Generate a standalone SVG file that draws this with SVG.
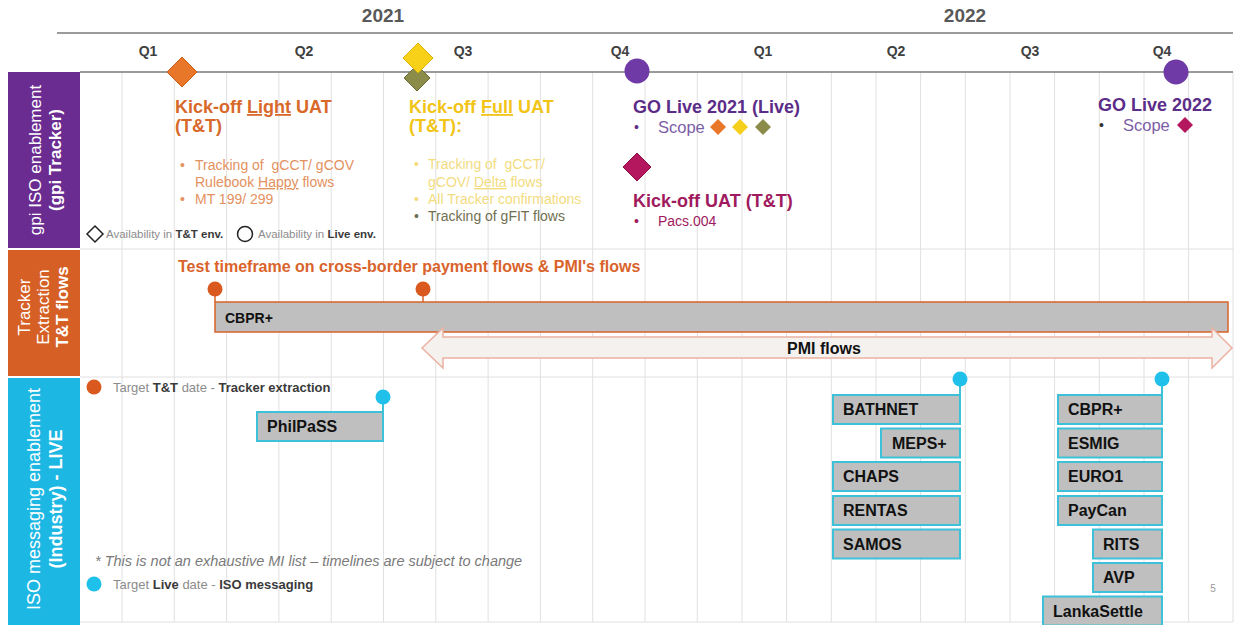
<svg xmlns="http://www.w3.org/2000/svg" width="1245" height="625" viewBox="0 0 1245 625">
<style>
text{font-family:"Liberation Sans",Arial,sans-serif}
.yr{font-size:19px;font-weight:bold;fill:#595959;text-anchor:middle}
.q{font-size:14px;font-weight:bold;fill:#404040;text-anchor:middle}
.axis{stroke:#7a7a7a;stroke-width:1.5}
.grid{stroke:#e0e0e0;stroke-width:1}
.lanelbl{fill:#ffffff;text-anchor:middle}
.ttl{font-size:18px;font-weight:bold}
.bul{font-size:14px}
.u{text-decoration:underline}
.box{fill:#bfbfbf;stroke:#3cc1d9;stroke-width:2}
.boxt{font-size:16px;font-weight:bold;fill:#111}
.pinT{fill:#1fc0ea}
.pinO{fill:#d9591f}
.stemT{stroke:#3cc1d9;stroke-width:2}
.stemO{stroke:#d9632a;stroke-width:1.5}
.leg{font-size:13px;fill:#8c8c8c}
.legb{font-weight:bold;fill:#3a3a3a}
</style>

<g id="grid">
<line class="grid" x1="122" y1="72" x2="122" y2="622"/>
<line class="grid" x1="174.3" y1="72" x2="174.3" y2="622"/>
<line class="grid" x1="226.6" y1="72" x2="226.6" y2="622"/>
<line class="grid" x1="278.9" y1="72" x2="278.9" y2="622"/>
<line class="grid" x1="331.2" y1="72" x2="331.2" y2="622"/>
<line class="grid" x1="383.5" y1="72" x2="383.5" y2="622"/>
<line class="grid" x1="435.8" y1="72" x2="435.8" y2="622"/>
<line class="grid" x1="488.1" y1="72" x2="488.1" y2="622"/>
<line class="grid" x1="540.4" y1="72" x2="540.4" y2="622"/>
<line class="grid" x1="592.7" y1="72" x2="592.7" y2="622"/>
<line class="grid" x1="645" y1="72" x2="645" y2="622"/>
<line class="grid" x1="697.3" y1="72" x2="697.3" y2="622"/>
<line class="grid" x1="742" y1="72" x2="742" y2="622"/>
<line class="grid" x1="786.6" y1="72" x2="786.6" y2="622"/>
<line class="grid" x1="831.3" y1="72" x2="831.3" y2="622"/>
<line class="grid" x1="876" y1="72" x2="876" y2="622"/>
<line class="grid" x1="920.6" y1="72" x2="920.6" y2="622"/>
<line class="grid" x1="965.3" y1="72" x2="965.3" y2="622"/>
<line class="grid" x1="1010" y1="72" x2="1010" y2="622"/>
<line class="grid" x1="1054.6" y1="72" x2="1054.6" y2="622"/>
<line class="grid" x1="1099.3" y1="72" x2="1099.3" y2="622"/>
<line class="grid" x1="1144" y1="72" x2="1144" y2="622"/>
<line class="grid" x1="1188.6" y1="72" x2="1188.6" y2="622"/>
<line class="grid" x1="1233" y1="72" x2="1233" y2="622"/>
<line class="grid" x1="80" y1="249" x2="1233" y2="249"/>
<line class="grid" x1="80" y1="377" x2="1233" y2="377"/>
<line class="grid" x1="80" y1="622" x2="1233" y2="622"/>
</g>

<g id="axis">
<line class="axis" x1="57" y1="33" x2="1233" y2="33"/>
<line class="axis" x1="80" y1="72" x2="1233" y2="72"/>
<text class="yr" x="383" y="22">2021</text>
<text class="yr" x="965" y="22">2022</text>
<text class="q" x="148" y="56">Q1</text>
<text class="q" x="304" y="56">Q2</text>
<text class="q" x="463" y="56">Q3</text>
<text class="q" x="620" y="56">Q4</text>
<text class="q" x="763" y="56">Q1</text>
<text class="q" x="896" y="56">Q2</text>
<text class="q" x="1030" y="56">Q3</text>
<text class="q" x="1162" y="56">Q4</text>
</g>

<g id="lane-gpi">
<rect x="8" y="72" width="72" height="176" fill="#6b2c91"/>
<text class="lanelbl" font-size="17" transform="translate(41,160) rotate(-90)">gpi ISO enablement</text>
<text class="lanelbl" font-size="17" font-weight="bold" transform="translate(61,160) rotate(-90)">(gpi Tracker)</text>
</g>
<g id="lane-tracker">
<rect x="8" y="250" width="72" height="126" fill="#d65f25"/>
<text class="lanelbl" font-size="17" transform="translate(30,307) rotate(-90)">Tracker</text>
<text class="lanelbl" font-size="17" transform="translate(49,307) rotate(-90)">Extraction</text>
<text class="lanelbl" font-size="17" font-weight="bold" transform="translate(68,307) rotate(-90)">T&amp;T flows</text>
</g>
<g id="lane-iso">
<rect x="8" y="378" width="72" height="247" fill="#1db7e4"/>
<text class="lanelbl" font-size="18" transform="translate(40,499) rotate(-90)">ISO messaging enablement</text>
<text class="lanelbl" font-size="18" font-weight="bold" transform="translate(62,499) rotate(-90)">(Industry) - LIVE</text>
</g>

<g id="ms-light-uat">
<polygon points="182,57 197,72 182,87 167,72" fill="#e8772a" stroke="#c85d18" stroke-width="1"/>
<text class="ttl" fill="#d8692b" x="175" y="113">Kick-off <tspan class="u">Light</tspan> UAT</text>
<text class="ttl" fill="#d8692b" x="175" y="132">(T&amp;T)</text>
<text class="bul" fill="#e39160" x="180" y="170">•</text>
<text class="bul" fill="#e39160" x="195" y="170" xml:space="preserve">Tracking of  gCCT/ gCOV</text>
<text class="bul" fill="#e39160" x="195" y="187">Rulebook <tspan class="u">Happy</tspan> flows</text>
<text class="bul" fill="#e39160" x="180" y="204">•</text>
<text class="bul" fill="#e39160" x="195" y="204">MT 199/ 299</text>
</g>

<g id="ms-full-uat">
<polygon points="417,65 430,78 417,91 404,78" fill="#8c8c4a" stroke="#6b6b35" stroke-width="1"/>
<polygon points="418,43 433,58 418,73 403,58" fill="#f7d117" stroke="#e0b000" stroke-width="1"/>
<text class="ttl" fill="#f2c418" x="409" y="113">Kick-off <tspan class="u">Full</tspan> UAT</text>
<text class="ttl" fill="#f2c418" x="409" y="132">(T&amp;T):</text>
<text class="bul" fill="#f3dc80" x="414" y="169">•</text>
<text class="bul" fill="#f3dc80" x="428" y="169" xml:space="preserve">Tracking of  gCCT/</text>
<text class="bul" fill="#f3dc80" x="428" y="187">gCOV/ <tspan class="u">Delta</tspan> flows</text>
<text class="bul" fill="#f3dc80" x="414" y="204">•</text>
<text class="bul" fill="#f3dc80" x="428" y="204">All Tracker confirmations</text>
<text class="bul" fill="#6f6f50" x="414" y="221">•</text>
<text class="bul" fill="#6f6f50" x="428" y="221">Tracking of gFIT flows</text>
</g>

<g id="ms-golive-2021">
<circle cx="637" cy="71" r="12.5" fill="#6f3aa6"/>
<text class="ttl" fill="#5b2d88" x="633" y="113">GO Live 2021 (Live)</text>
<text font-size="14" fill="#5b2d88" x="634" y="132">•</text>
<text font-size="16.5" fill="#7b5ea7" x="658" y="133">Scope</text>
<polygon points="718,119 726,127 718,135 710,127" fill="#e8772a"/>
<polygon points="740,119 748,127 740,135 732,127" fill="#f5cf1a"/>
<polygon points="763,119 771,127 763,135 755,127" fill="#8c8c4a"/>
</g>

<g id="ms-kickoff-uat">
<polygon points="637,153 651,167 637,181 623,167" fill="#b5175e" stroke="#8a0f45" stroke-width="1"/>
<text class="ttl" fill="#a01a5e" x="633" y="207">Kick-off UAT (T&amp;T)</text>
<text font-size="14" fill="#a01a5e" x="634" y="226">•</text>
<text font-size="14" fill="#a01a5e" x="658" y="226">Pacs.004</text>
</g>

<g id="ms-golive-2022">
<circle cx="1176" cy="72" r="12.5" fill="#6f3aa6"/>
<text class="ttl" fill="#5b2d88" x="1098" y="111">GO Live 2022</text>
<text font-size="14" fill="#333" x="1099" y="130">•</text>
<text font-size="16.5" fill="#7b5ea7" x="1123" y="131">Scope</text>
<polygon points="1185,117 1193,125 1185,133 1177,125" fill="#b5175e"/>
</g>

<g id="legend-top">
<polygon points="95,226 103,234 95,242 87,234" fill="#fff" stroke="#222" stroke-width="1.5"/>
<text font-size="11.5" fill="#8c8c8c" x="106" y="238">Availability in <tspan class="legb">T&amp;T env.</tspan></text>
<circle cx="245" cy="234" r="7.5" fill="#fff" stroke="#222" stroke-width="1.5"/>
<text font-size="11.5" fill="#8c8c8c" x="258" y="238">Availability in <tspan class="legb">Live env.</tspan></text>
</g>

<g id="tracker-title">
<text font-size="16" font-weight="bold" fill="#d9632a" x="178" y="272">Test timeframe on cross-border payment flows &amp; PMI's flows</text>
</g>

<g id="bar-cbpr">
<rect x="215" y="302" width="1013" height="30" fill="#bfbfbf" stroke="#d9632a" stroke-width="1.5"/>
<text font-size="14" font-weight="bold" fill="#111" x="225" y="323">CBPR+</text>
</g>

<g id="arrow-pmi">
<path d="M422,348 L443,328 L443,337 L1212,337 L1212,328 L1232,348 L1212,368 L1212,358 L443,358 L443,368 Z" fill="#f5f1ef" stroke="#eab2a2" stroke-width="1.5"/>
<text font-size="16" font-weight="bold" fill="#111" x="824" y="354" text-anchor="middle">PMI flows</text>
</g>

<g id="connectors">
<line class="stemO" x1="215" y1="289" x2="215" y2="302"/>
<line class="stemO" x1="423" y1="289" x2="423" y2="302"/>
<line class="stemT" x1="383" y1="397" x2="383" y2="412"/>
<line class="stemT" x1="960" y1="379" x2="960" y2="395"/>
<line class="stemT" x1="1162" y1="379" x2="1162" y2="395"/>
</g>

<g id="pins">
<circle class="pinO" cx="215" cy="289" r="7.5"/>
<circle class="pinO" cx="423" cy="289" r="7.5"/>
<circle class="pinT" cx="383" cy="397" r="7.5"/>
<circle class="pinT" cx="960" cy="379" r="7.5"/>
<circle class="pinT" cx="1162" cy="379" r="7.5"/>
</g>

<g id="legend-bottom">
<circle cx="94" cy="387" r="7.5" fill="#d9591f"/>
<text class="leg" x="113" y="392">Target <tspan class="legb">T&amp;T</tspan> date - <tspan class="legb">Tracker extraction</tspan></text>
<text font-size="14.5" font-style="italic" fill="#7a7a7a" x="95" y="566">* This is not an exhaustive MI list – timelines are subject to change</text>
<circle cx="94" cy="584" r="7.5" fill="#1fc0ea"/>
<text class="leg" x="113" y="589">Target <tspan class="legb">Live</tspan> date - <tspan class="legb">ISO messaging</tspan></text>
</g>

<g id="box-philpass"><rect class="box" x="257" y="412" width="126" height="29"/><text class="boxt" x="267" y="432">PhilPaSS</text></g>
<g id="box-bathnet"><rect class="box" x="833" y="395" width="127" height="29"/><text class="boxt" x="843" y="415">BATHNET</text></g>
<g id="box-meps"><rect class="box" x="881" y="428.5" width="79" height="29"/><text class="boxt" x="892" y="448.5">MEPS+</text></g>
<g id="box-chaps"><rect class="box" x="833" y="462" width="127" height="29"/><text class="boxt" x="843" y="482">CHAPS</text></g>
<g id="box-rentas"><rect class="box" x="833" y="496" width="127" height="29"/><text class="boxt" x="843" y="516">RENTAS</text></g>
<g id="box-samos"><rect class="box" x="833" y="529.5" width="127" height="29"/><text class="boxt" x="843" y="549.5">SAMOS</text></g>
<g id="box-cbpr"><rect class="box" x="1058" y="395" width="104" height="29"/><text class="boxt" x="1068" y="415">CBPR+</text></g>
<g id="box-esmig"><rect class="box" x="1058" y="428.5" width="104" height="29"/><text class="boxt" x="1068" y="448.5">ESMIG</text></g>
<g id="box-euro1"><rect class="box" x="1058" y="462" width="104" height="29"/><text class="boxt" x="1068" y="482">EURO1</text></g>
<g id="box-paycan"><rect class="box" x="1058" y="496" width="104" height="29"/><text class="boxt" x="1068" y="516">PayCan</text></g>
<g id="box-rits"><rect class="box" x="1093" y="529.5" width="69" height="29"/><text class="boxt" x="1103" y="549.5">RITS</text></g>
<g id="box-avp"><rect class="box" x="1093" y="563" width="69" height="29"/><text class="boxt" x="1103" y="583">AVP</text></g>
<g id="box-lanka"><rect class="box" x="1043" y="596.5" width="119" height="29"/><text class="boxt" x="1053" y="616.5">LankaSettle</text></g>

<text font-size="10" fill="#9a9a9a" x="1213" y="592" text-anchor="middle">5</text>
</svg>
